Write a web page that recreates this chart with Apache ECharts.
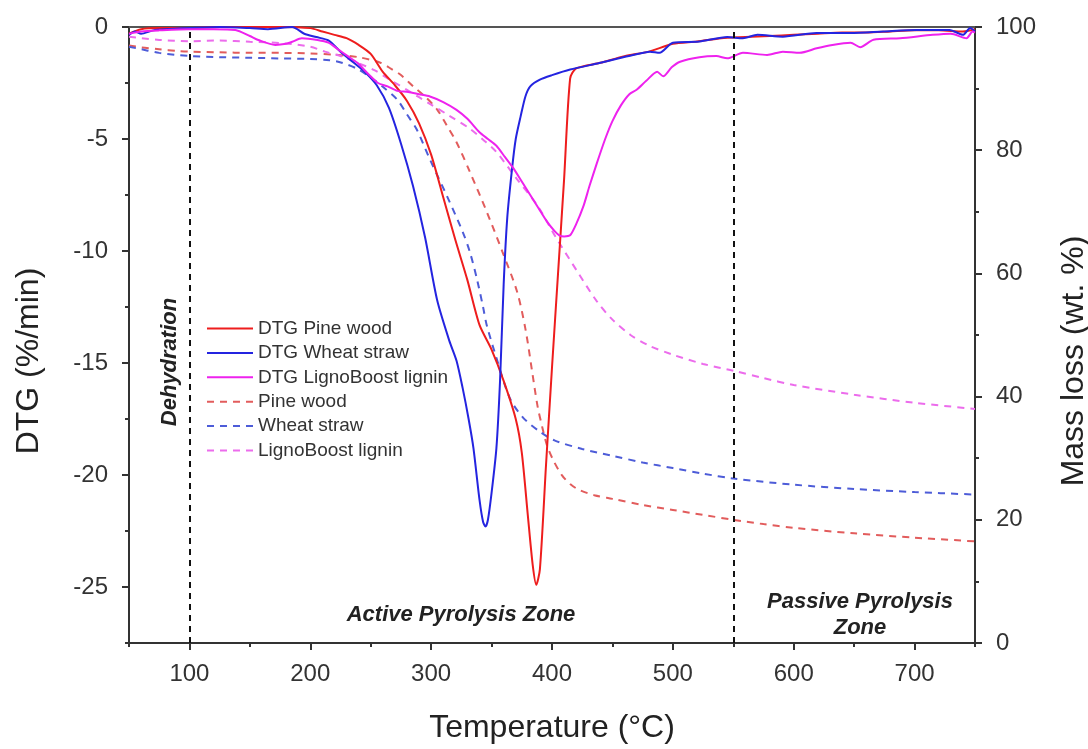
<!DOCTYPE html>
<html><head><meta charset="utf-8">
<script src="https://cdn.jsdelivr.net/npm/echarts@6/dist/echarts.min.js"></script>
<style>html,body{margin:0;padding:0;background:#fff;overflow:hidden}#c{width:1088px;height:749px}</style>
</head><body><div id="c"></div>
<script>
// ---- data ----
const tPineDTG = [50,60,75,100,125,150,175,200,210,220,230,240,250,260,270,280,290,300,310,320,330,340,350,360,370,375,380,384,387,390,395,400,405,410,415,420,440,460,480,500,520,540,560,580,600,620,640,660,680,700,720,740,750];
const dtgPine  = [-0.3,-0.1,-0.05,-0.05,0,0,0,-0.05,-0.2,-0.35,-0.5,-0.8,-1.2,-2.0,-2.6,-3.3,-4.3,-5.7,-7.6,-9.5,-11.3,-13.3,-14.4,-15.8,-17.5,-19.0,-21.8,-24.0,-24.9,-24.2,-19.6,-15.2,-11.0,-6.8,-2.3,-1.85,-1.6,-1.3,-1.1,-0.75,-0.65,-0.5,-0.45,-0.4,-0.35,-0.3,-0.25,-0.25,-0.2,-0.15,-0.15,-0.2,-0.1];

const tWheatDTG = [50,55,60,70,80,100,125,150,165,185,195,205,215,225,235,245,255,265,275,285,295,305,315,321,326,331,335,340,343,345,347,350,354,357,360,363,367,370,374,378,382,390,400,415,440,467,481,489,500,522,545,558,570,591,619,647,674,702,729,740,746,750];
const dtgWheat  = [-0.35,-0.2,-0.3,-0.15,-0.1,-0.05,0,-0.05,-0.1,0,-0.3,-0.45,-0.6,-1.1,-1.55,-2.0,-2.6,-3.6,-5.2,-7.1,-9.4,-12.2,-14.0,-14.9,-16.1,-17.5,-18.8,-21.1,-22.1,-22.3,-22.0,-20.8,-18.8,-15.8,-11.5,-8.5,-6.3,-5.0,-4.0,-3.1,-2.65,-2.35,-2.15,-1.9,-1.6,-1.25,-1.1,-1.15,-0.7,-0.65,-0.45,-0.5,-0.35,-0.43,-0.27,-0.27,-0.2,-0.13,-0.13,-0.35,-0.05,-0.2];

const tLigninDTG = [50,60,75,100,120,138,150,157,171,180,185,193,206,215,223,231,239,248,256,264,272,281,290,299,310,321,330,340,347,354,361,368,375,382,389,396,402,406,410,415,420,426,431,437,444,450,457,464,470,478,487,492,499,506,522,536,545,558,578,591,605,619,632,647,655,666,688,715,730,743,748,750];
const dtgLignin  = [-0.3,-0.2,-0.15,-0.1,-0.1,-0.13,-0.4,-0.58,-0.8,-0.75,-0.66,-0.5,-0.58,-0.7,-1.0,-1.3,-1.6,-2.1,-2.5,-2.65,-2.85,-2.9,-3.0,-3.1,-3.35,-3.7,-4.1,-4.7,-5.0,-5.3,-5.8,-6.3,-6.9,-7.5,-8.1,-8.7,-9.1,-9.3,-9.35,-9.3,-8.8,-8.0,-7.1,-6.1,-5.0,-4.2,-3.5,-3.0,-2.8,-2.4,-2.0,-2.2,-1.8,-1.55,-1.35,-1.3,-1.4,-1.15,-1.25,-1.1,-1.15,-0.95,-0.8,-0.7,-0.9,-0.57,-0.5,-0.35,-0.3,-0.5,-0.2,-0.25];

const tPineTG = [50,60,75,90,100,125,150,175,200,220,240,258,267,275,285,295,305,313,321,332,346,359,371,378,384,388,392,396,401,408,415,423,435,450,475,500,525,550,575,600,650,700,750];
const tgPine  = [97.0,96.7,96.4,96.1,96.0,95.9,95.8,95.8,95.7,95.5,95.1,94.2,93.2,92.2,90.4,88.7,86.6,84.0,81.3,76.5,70.0,63.5,57.1,51.0,43.5,38.5,35.0,32.0,29.7,27.3,25.8,24.8,24.0,23.4,22.4,21.6,20.8,20.0,19.3,18.7,17.8,17.1,16.5];

const tWheatTG = [50,60,75,100,125,150,175,200,216,226,239,250,260,272,280,288,299,313,326,332,338,343,346,354,365,376,390,402,425,450,475,500,525,550,600,650,700,750];
const tgWheat  = [96.8,96.4,95.8,95.3,95.1,95.0,94.9,94.8,94.6,94.2,93.2,91.8,90.3,88.2,85.8,83.4,78.5,72.6,66.8,63.5,59.0,54.5,51.6,46.3,39.8,36.6,34.3,32.9,31.5,30.4,29.3,28.4,27.5,26.7,25.7,25.0,24.5,24.1];

const tLigninTG = [50,60,75,100,125,150,175,200,212,225,239,253,267,280,290,300,315,332,343,354,371,388,404,421,437,450,465,480,500,525,550,575,600,650,700,750];
const tgLignin  = [98.4,98.2,97.9,97.7,97.8,97.6,97.4,96.8,96.0,95.3,94.2,93.0,91.3,89.8,88.6,87.4,85.6,83.5,81.7,79.7,75.3,71.0,65.6,60.3,55.5,52.5,50.0,48.3,46.8,45.3,44.2,43.0,41.9,40.3,39.0,38.0];

const xMajor = [100,200,300,400,500,600,700];
const xMinor = [50,150,250,350,450,550,650,750];
const yLeftMajor = [0,-5,-10,-15,-20,-25];
const yLeftMinor = [-2.5,-7.5,-12.5,-17.5,-22.5,-27.5];
const zoneLines = [100,550];

const zip = (a,b) => a.map((v,i)=>[v,b[i]]);
const FONT = "'Liberation Sans', Arial, sans-serif";
const AX = '#333';
const BI = "italic bold 22px 'Liberation Sans', Arial";

const chart = echarts.init(document.getElementById('c'), null, {renderer:'canvas'});

function solid(name, t, v, color){
  return {name, type:'line', xAxisIndex:0, yAxisIndex:0, data:zip(t,v), showSymbol:false, symbol:'none',
    smooth:0.25, lineStyle:{color, width:2}, itemStyle:{color}, z:4};
}
function dashed(name, t, v, color){
  return {name, type:'line', xAxisIndex:0, yAxisIndex:2, data:zip(t,v), showSymbol:false, symbol:'none',
    smooth:0.3, lineStyle:{color, width:2, type:[7,6]}, itemStyle:{color}, z:3};
}

const series = [
  solid('DTG Pine wood', tPineDTG, dtgPine, '#ee1d1d'),
  solid('DTG Wheat straw', tWheatDTG, dtgWheat, '#2424e0'),
  solid('DTG LignoBoost lignin', tLigninDTG, dtgLignin, '#ee22ee'),
  dashed('Pine wood', tPineTG, tgPine, '#e25c5c'),
  dashed('Wheat straw', tWheatTG, tgWheat, '#4d5cd8'),
  dashed('LignoBoost lignin', tLigninTG, tgLignin, '#ec6cec'),
  {type:'line', xAxisIndex:0, yAxisIndex:0, data:[], silent:true,
   markLine:{silent:true, symbol:['none','none'], label:{show:false},
     lineStyle:{color:'#111', width:2, type:[6,5]},
     data: zoneLines.map(x=>({xAxis:x}))}}
];

chart.setOption({
  animation:false,
  backgroundColor:'#fff',
  grid:{left:129, right:113, top:27, bottom:101, containLabel:false},
  legend:{
    data:['DTG Pine wood','DTG Wheat straw','DTG LignoBoost lignin','Pine wood','Wheat straw','LignoBoost lignin'],
    orient:'vertical', left:206, top:319, padding:0, itemWidth:46, itemHeight:14, itemGap:5.4,
    itemStyle:{opacity:0},
    textStyle:{fontFamily:FONT, fontSize:19, color:'#333'}
  },
  xAxis:[
    {type:'value', min:50, max:750, position:'bottom',
     name:'Temperature (°C)', nameLocation:'middle', nameGap:69,
     nameTextStyle:{fontFamily:FONT, fontSize:32, color:'#222'},
     axisLine:{show:true, onZero:false, lineStyle:{color:AX, width:2}},
     axisTick:{show:true, customValues:xMajor, length:7, lineStyle:{color:AX, width:2}},
     axisLabel:{customValues:xMajor, fontFamily:FONT, fontSize:24, color:'#333', margin:19},
     splitLine:{show:false}},
    {type:'value', min:50, max:750, position:'bottom',
     axisLine:{show:false, onZero:false},
     axisTick:{show:true, customValues:xMinor, length:4, lineStyle:{color:AX, width:2}},
     axisLabel:{show:false}, splitLine:{show:false}},
    {type:'value', min:50, max:750, position:'top',
     axisLine:{show:true, onZero:false, lineStyle:{color:'#555', width:2}},
     axisTick:{show:false}, axisLabel:{show:false}, splitLine:{show:false}}
  ],
  yAxis:[
    {type:'value', min:-27.5, max:0, position:'left',
     axisLine:{show:true, onZero:false, lineStyle:{color:AX, width:2}},
     axisTick:{show:true, customValues:yLeftMajor, length:7, lineStyle:{color:AX, width:2}},
     axisLabel:{customValues:yLeftMajor, fontFamily:FONT, fontSize:24, color:'#333', margin:21},
     splitLine:{show:false}},
    {type:'value', min:-27.5, max:0, position:'left',
     axisLine:{show:false, onZero:false},
     axisTick:{show:true, customValues:yLeftMinor, length:4, lineStyle:{color:AX, width:2}},
     axisLabel:{show:false}, splitLine:{show:false}},
    {type:'value', min:0, max:100, interval:20, position:'right',
     axisLine:{show:true, onZero:false, lineStyle:{color:AX, width:2}},
     axisTick:{show:true, length:7, lineStyle:{color:AX, width:2}},
     minorTick:{show:true, splitNumber:2, length:4, lineStyle:{color:AX, width:2}},
     axisLabel:{fontFamily:FONT, fontSize:24, color:'#333', margin:21},
     splitLine:{show:false}}
  ],
  graphic:[
    {type:'text', x:29, y:361, rotation:Math.PI/2,
     style:{text:'DTG (%/min)', font:"32px 'Liberation Sans', Arial", fill:'#222', textAlign:'center', textVerticalAlign:'middle'}},
    {type:'text', x:1074, y:361, rotation:Math.PI/2,
     style:{text:'Mass loss (wt. %)', font:"32px 'Liberation Sans', Arial", fill:'#222', textAlign:'center', textVerticalAlign:'middle'}},
    {type:'text', x:170, y:362, rotation:Math.PI/2,
     style:{text:'Dehydration', font:BI, fill:'#222', textAlign:'center', textVerticalAlign:'middle'}},
    {type:'text', x:461, y:615,
     style:{text:'Active Pyrolysis Zone', font:BI, fill:'#222', textAlign:'center', textVerticalAlign:'middle'}},
    {type:'text', x:860, y:602,
     style:{text:'Passive Pyrolysis', font:BI, fill:'#222', textAlign:'center', textVerticalAlign:'middle'}},
    {type:'text', x:860, y:628,
     style:{text:'Zone', font:BI, fill:'#222', textAlign:'center', textVerticalAlign:'middle'}}
  ],
  series
});
</script>
</body></html>
